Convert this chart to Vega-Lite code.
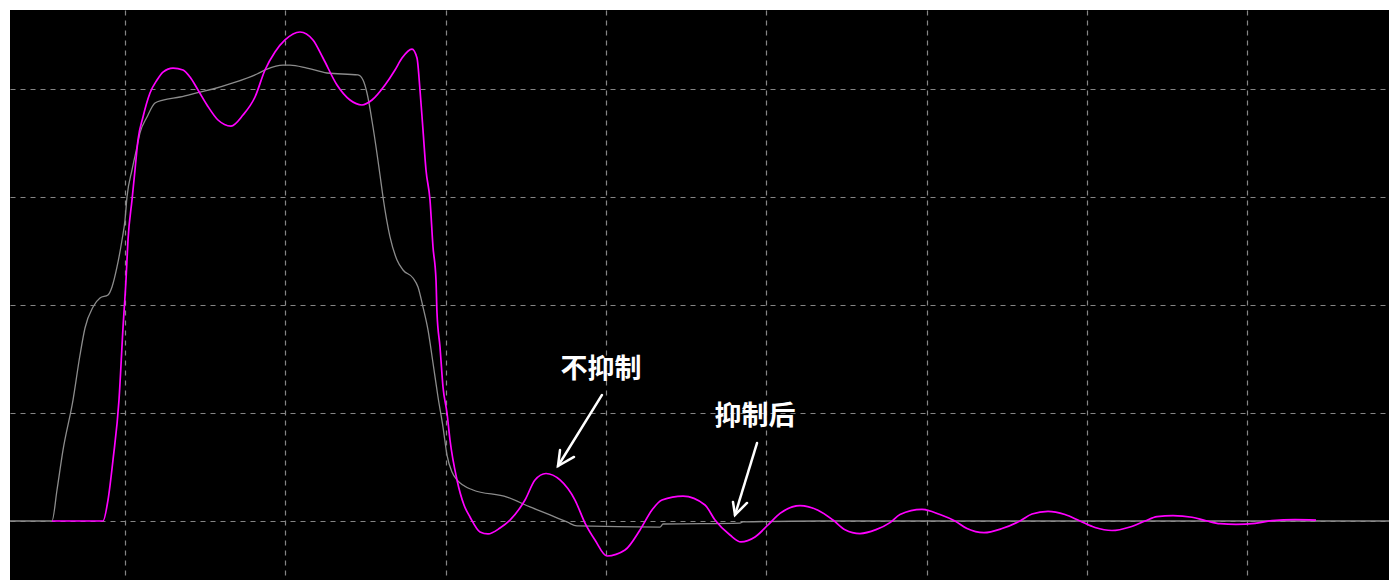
{
  "$schema": "https://vega.github.io/schema/vega-lite/v6.json",
  "width": 1379,
  "height": 570,
  "autosize": {"type": "none"},
  "padding": {"left": 10, "top": 10, "right": 0, "bottom": 0},
  "background": "#ffffff",
  "config": {
    "view": {"fill": "#000000", "stroke": null},
    "axis": {
      "domain": false,
      "ticks": false,
      "labels": false,
      "title": null,
      "grid": true,
      "gridColor": "#858585",
      "gridDash": [5, 5],
      "gridWidth": 1.2,
      "gridOpacity": 1,
      "zindex": 1
    }
  },
  "datasets": {
    "signals": [
      {"series": "抑制后", "t": 0, "v": 0},
      {"series": "抑制后", "t": 42, "v": 0},
      {"series": "抑制后", "t": 47, "v": 0.287},
      {"series": "抑制后", "t": 53, "v": 0.657},
      {"series": "抑制后", "t": 63, "v": 1.12},
      {"series": "抑制后", "t": 70, "v": 1.537},
      {"series": "抑制后", "t": 75, "v": 1.787},
      {"series": "抑制后", "t": 83, "v": 1.981},
      {"series": "抑制后", "t": 90, "v": 2.065},
      {"series": "抑制后", "t": 98, "v": 2.093},
      {"series": "抑制后", "t": 102, "v": 2.167},
      {"series": "抑制后", "t": 107, "v": 2.352},
      {"series": "抑制后", "t": 112, "v": 2.602},
      {"series": "抑制后", "t": 115, "v": 2.787},
      {"series": "抑制后", "t": 117, "v": 3.0},
      {"series": "抑制后", "t": 122, "v": 3.25},
      {"series": "抑制后", "t": 127, "v": 3.463},
      {"series": "抑制后", "t": 130, "v": 3.593},
      {"series": "抑制后", "t": 137, "v": 3.741},
      {"series": "抑制后", "t": 145, "v": 3.87},
      {"series": "抑制后", "t": 153, "v": 3.898},
      {"series": "抑制后", "t": 170, "v": 3.926},
      {"series": "抑制后", "t": 190, "v": 3.972},
      {"series": "抑制后", "t": 203, "v": 4.0},
      {"series": "抑制后", "t": 223, "v": 4.056},
      {"series": "抑制后", "t": 247, "v": 4.139},
      {"series": "抑制后", "t": 257, "v": 4.185},
      {"series": "抑制后", "t": 273, "v": 4.222},
      {"series": "抑制后", "t": 280, "v": 4.222},
      {"series": "抑制后", "t": 297, "v": 4.194},
      {"series": "抑制后", "t": 317, "v": 4.148},
      {"series": "抑制后", "t": 348, "v": 4.13},
      {"series": "抑制后", "t": 353, "v": 4.083},
      {"series": "抑制后", "t": 357, "v": 3.963},
      {"series": "抑制后", "t": 363, "v": 3.648},
      {"series": "抑制后", "t": 370, "v": 3.204},
      {"series": "抑制后", "t": 373, "v": 3.0},
      {"series": "抑制后", "t": 380, "v": 2.63},
      {"series": "抑制后", "t": 387, "v": 2.417},
      {"series": "抑制后", "t": 393, "v": 2.324},
      {"series": "抑制后", "t": 403, "v": 2.25},
      {"series": "抑制后", "t": 408, "v": 2.167},
      {"series": "抑制后", "t": 413, "v": 1.981},
      {"series": "抑制后", "t": 418, "v": 1.769},
      {"series": "抑制后", "t": 423, "v": 1.463},
      {"series": "抑制后", "t": 428, "v": 1.148},
      {"series": "抑制后", "t": 433, "v": 0.87},
      {"series": "抑制后", "t": 437, "v": 0.611},
      {"series": "抑制后", "t": 442, "v": 0.454},
      {"series": "抑制后", "t": 447, "v": 0.38},
      {"series": "抑制后", "t": 463, "v": 0.287},
      {"series": "抑制后", "t": 497, "v": 0.222},
      {"series": "抑制后", "t": 520, "v": 0.13},
      {"series": "抑制后", "t": 540, "v": 0.056},
      {"series": "抑制后", "t": 557, "v": -0.009},
      {"series": "抑制后", "t": 567, "v": -0.046},
      {"series": "抑制后", "t": 650, "v": -0.056},
      {"series": "抑制后", "t": 653, "v": -0.028},
      {"series": "抑制后", "t": 730, "v": -0.019},
      {"series": "抑制后", "t": 733, "v": -0.009},
      {"series": "抑制后", "t": 810, "v": 0},
      {"series": "抑制后", "t": 1379, "v": 0},
      {"series": "不抑制", "t": 42, "v": 0},
      {"series": "不抑制", "t": 93, "v": 0},
      {"series": "不抑制", "t": 98, "v": 0.194},
      {"series": "不抑制", "t": 103, "v": 0.565},
      {"series": "不抑制", "t": 109, "v": 1.12},
      {"series": "不抑制", "t": 113, "v": 1.787},
      {"series": "不抑制", "t": 116, "v": 2.231},
      {"series": "不抑制", "t": 118, "v": 2.602},
      {"series": "不抑制", "t": 122, "v": 2.972},
      {"series": "不抑制", "t": 125, "v": 3.25},
      {"series": "不抑制", "t": 128, "v": 3.528},
      {"series": "不抑制", "t": 133, "v": 3.741},
      {"series": "不抑制", "t": 140, "v": 3.963},
      {"series": "不抑制", "t": 147, "v": 4.083},
      {"series": "不抑制", "t": 153, "v": 4.157},
      {"series": "不抑制", "t": 163, "v": 4.194},
      {"series": "不抑制", "t": 173, "v": 4.176},
      {"series": "不抑制", "t": 180, "v": 4.111},
      {"series": "不抑制", "t": 188, "v": 3.991},
      {"series": "不抑制", "t": 197, "v": 3.852},
      {"series": "不抑制", "t": 208, "v": 3.713},
      {"series": "不抑制", "t": 221, "v": 3.657},
      {"series": "不抑制", "t": 233, "v": 3.759},
      {"series": "不抑制", "t": 245, "v": 3.926},
      {"series": "不抑制", "t": 255, "v": 4.176},
      {"series": "不抑制", "t": 265, "v": 4.343},
      {"series": "不抑制", "t": 275, "v": 4.454},
      {"series": "不抑制", "t": 290, "v": 4.528},
      {"series": "不抑制", "t": 303, "v": 4.454},
      {"series": "不抑制", "t": 313, "v": 4.287},
      {"series": "不抑制", "t": 327, "v": 4.037},
      {"series": "不抑制", "t": 340, "v": 3.898},
      {"series": "不抑制", "t": 352, "v": 3.852},
      {"series": "不抑制", "t": 362, "v": 3.898},
      {"series": "不抑制", "t": 375, "v": 4.037},
      {"series": "不抑制", "t": 385, "v": 4.176},
      {"series": "不抑制", "t": 392, "v": 4.287},
      {"series": "不抑制", "t": 402, "v": 4.37},
      {"series": "不抑制", "t": 407, "v": 4.287},
      {"series": "不抑制", "t": 410, "v": 3.991},
      {"series": "不抑制", "t": 413, "v": 3.62},
      {"series": "不抑制", "t": 416, "v": 3.25},
      {"series": "不抑制", "t": 420, "v": 2.972},
      {"series": "不抑制", "t": 423, "v": 2.537},
      {"series": "不抑制", "t": 426, "v": 2.231},
      {"series": "不抑制", "t": 427, "v": 1.926},
      {"series": "不抑制", "t": 430, "v": 1.611},
      {"series": "不抑制", "t": 433, "v": 1.241},
      {"series": "不抑制", "t": 437, "v": 1.0},
      {"series": "不抑制", "t": 440, "v": 0.75},
      {"series": "不抑制", "t": 447, "v": 0.38},
      {"series": "不抑制", "t": 454, "v": 0.148},
      {"series": "不抑制", "t": 460, "v": 0.037},
      {"series": "不抑制", "t": 470, "v": -0.102},
      {"series": "不抑制", "t": 478, "v": -0.12},
      {"series": "不抑制", "t": 490, "v": -0.065},
      {"series": "不抑制", "t": 500, "v": 0.009},
      {"series": "不抑制", "t": 515, "v": 0.194},
      {"series": "不抑制", "t": 525, "v": 0.38},
      {"series": "不抑制", "t": 536, "v": 0.44},
      {"series": "不抑制", "t": 550, "v": 0.38},
      {"series": "不抑制", "t": 565, "v": 0.194},
      {"series": "不抑制", "t": 575, "v": -0.019},
      {"series": "不抑制", "t": 585, "v": -0.176},
      {"series": "不抑制", "t": 597, "v": -0.324},
      {"series": "不抑制", "t": 615, "v": -0.269},
      {"series": "不抑制", "t": 630, "v": -0.083},
      {"series": "不抑制", "t": 642, "v": 0.102},
      {"series": "不抑制", "t": 652, "v": 0.194},
      {"series": "不抑制", "t": 673, "v": 0.23},
      {"series": "不抑制", "t": 695, "v": 0.148},
      {"series": "不抑制", "t": 705, "v": 0.009},
      {"series": "不抑制", "t": 720, "v": -0.13},
      {"series": "不抑制", "t": 731, "v": -0.194},
      {"series": "不抑制", "t": 745, "v": -0.148},
      {"series": "不抑制", "t": 758, "v": -0.037},
      {"series": "不抑制", "t": 770, "v": 0.07},
      {"series": "不抑制", "t": 790, "v": 0.143},
      {"series": "不抑制", "t": 808, "v": 0.1},
      {"series": "不抑制", "t": 823, "v": 0.009},
      {"series": "不抑制", "t": 835, "v": -0.08},
      {"series": "不抑制", "t": 850, "v": -0.116},
      {"series": "不抑制", "t": 866, "v": -0.08},
      {"series": "不抑制", "t": 880, "v": -0.015},
      {"series": "不抑制", "t": 890, "v": 0.06},
      {"series": "不抑制", "t": 912, "v": 0.107},
      {"series": "不抑制", "t": 930, "v": 0.06},
      {"series": "不抑制", "t": 945, "v": 0},
      {"series": "不抑制", "t": 957, "v": -0.07},
      {"series": "不抑制", "t": 974, "v": -0.108},
      {"series": "不抑制", "t": 992, "v": -0.07},
      {"series": "不抑制", "t": 1010, "v": 0},
      {"series": "不抑制", "t": 1022, "v": 0.065},
      {"series": "不抑制", "t": 1038, "v": 0.09},
      {"series": "不抑制", "t": 1055, "v": 0.06},
      {"series": "不抑制", "t": 1070, "v": 0},
      {"series": "不抑制", "t": 1085, "v": -0.06},
      {"series": "不抑制", "t": 1102, "v": -0.088},
      {"series": "不抑制", "t": 1120, "v": -0.055},
      {"series": "不抑制", "t": 1135, "v": 0},
      {"series": "不抑制", "t": 1147, "v": 0.04},
      {"series": "不抑制", "t": 1163, "v": 0.05},
      {"series": "不抑制", "t": 1182, "v": 0.035},
      {"series": "不抑制", "t": 1197, "v": 0},
      {"series": "不抑制", "t": 1210, "v": -0.025},
      {"series": "不抑制", "t": 1226, "v": -0.032},
      {"series": "不抑制", "t": 1245, "v": -0.022},
      {"series": "不抑制", "t": 1262, "v": 0.004},
      {"series": "不抑制", "t": 1285, "v": 0.012},
      {"series": "不抑制", "t": 1306, "v": 0.008}
    ],
    "arrows": [
      {"id": "a1", "t": 592, "v": 1.167, "t2": 548, "v2": 0.509},
      {"id": "a2", "t": 747, "v": 0.722, "t2": 725, "v2": 0.056}
    ],
    "heads": [
      {"id": "a1", "k": 0, "t": 550, "v": 0.657},
      {"id": "a1", "k": 1, "t": 548, "v": 0.509},
      {"id": "a1", "k": 2, "t": 564, "v": 0.593},
      {"id": "a2", "k": 0, "t": 723, "v": 0.176},
      {"id": "a2", "k": 1, "t": 725, "v": 0.056},
      {"id": "a2", "k": 2, "t": 737, "v": 0.167}
    ],
    "labels": [
      {"text": "不抑制", "t": 591, "v": 1.398},
      {"text": "抑制后", "t": 745, "v": 0.963}
    ]
  },
  "layer": [
    {
      "data": {"name": "signals"},
      "mark": {"type": "line", "interpolate": "monotone", "strokeJoin": "round"},
      "encoding": {
        "x": {
          "field": "t",
          "type": "quantitative",
          "scale": {"domain": [0, 1379], "nice": false, "zero": false},
          "axis": {"values": [115, 275.3, 435.6, 595.9, 756.2, 916.5, 1076.8, 1237.1]}
        },
        "y": {
          "field": "v",
          "type": "quantitative",
          "scale": {"domain": [-0.5463, 4.7315], "nice": false, "zero": false},
          "axis": {"values": [0, 1, 2, 3, 4]}
        },
        "color": {
          "field": "series",
          "type": "nominal",
          "scale": {"domain": ["抑制后", "不抑制"], "range": ["#8c8c8c", "#ff00ff"]},
          "legend": null
        },
        "strokeWidth": {
          "field": "series",
          "type": "nominal",
          "scale": {"domain": ["抑制后", "不抑制"], "range": [1.3, 1.7]},
          "legend": null
        },
        "order": {"field": "series", "sort": "descending"}
      }
    },
    {
      "data": {"name": "arrows"},
      "mark": {"type": "rule", "color": "#ffffff", "strokeWidth": 2.5, "strokeCap": "round"},
      "encoding": {
        "x": {"field": "t", "type": "quantitative"},
        "y": {"field": "v", "type": "quantitative"},
        "x2": {"field": "t2"},
        "y2": {"field": "v2"}
      }
    },
    {
      "data": {"name": "heads"},
      "mark": {"type": "line", "color": "#ffffff", "strokeWidth": 2.5, "strokeCap": "round", "strokeJoin": "miter"},
      "encoding": {
        "x": {"field": "t", "type": "quantitative"},
        "y": {"field": "v", "type": "quantitative"},
        "detail": {"field": "id"},
        "order": {"field": "k"}
      }
    },
    {
      "data": {"name": "labels"},
      "mark": {
        "type": "text",
        "color": "#ffffff",
        "font": "Noto Sans CJK SC",
        "fontWeight": "bold",
        "fontSize": 27,
        "align": "center",
        "baseline": "middle"
      },
      "encoding": {
        "x": {"field": "t", "type": "quantitative"},
        "y": {"field": "v", "type": "quantitative"},
        "text": {"field": "text"}
      }
    }
  ]
}
